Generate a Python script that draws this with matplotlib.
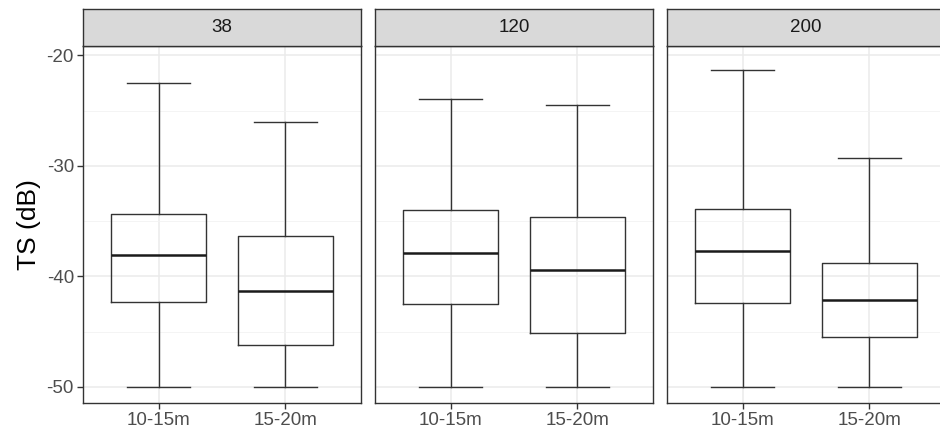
import matplotlib.pyplot as plt
import numpy as np

plt.rcParams["font.family"] = "Liberation Sans"

# frequency panels and depth groups
freqs = ['38', '120', '200']
depths = ['10-15m', '15-20m']

# box stats per panel: one value per depth group
whis_hi = [[-22.5, -26.05], [-23.95, -24.5], [-21.3, -29.3]]
q3 = [[-34.35, -36.3], [-33.95, -34.6], [-33.9, -38.8]]
med = [[-38.05, -41.3], [-37.9, -39.4], [-37.7, -42.1]]
q1 = [[-42.35, -46.2], [-42.5, -45.1], [-42.4, -45.5]]
whis_lo = [[-50, -50], [-50, -50], [-50, -50]]

W, H = 940, 437
fig = plt.figure(figsize=(W/100, H/100), dpi=100)

lefts = [83, 375, 667]
pw = 278
top, strip_bot, bot = 9, 46, 403
line_c = '#333333'

for i, f in enumerate(freqs):
    ax = fig.add_axes([lefts[i]/W, 1-bot/H, pw/W, (bot-strip_bot)/H])
    st = []
    for j in range(2):
        st.append(dict(med=med[i][j], q1=q1[i][j], q3=q3[i][j],
                       whislo=whis_lo[i][j], whishi=whis_hi[i][j], fliers=[]))
    ax.bxp(st, positions=[1, 2], widths=0.75, capwidths=0.5, showfliers=False,
           boxprops=dict(color=line_c, lw=1.0),
           whiskerprops=dict(color=line_c, lw=1.0),
           capprops=dict(color=line_c, lw=1.0),
           medianprops=dict(color='#1a1a1a', lw=1.8))
    ax.set_xlim(0.4, 2.6)
    ax.set_ylim(-51.45, -19.15)
    ax.set_xticks([1, 2])
    ax.set_xticklabels(depths)
    ax.set_yticks([-50, -40, -30, -20])
    ax.set_yticks([-45, -35, -25], minor=True)
    ax.grid(True, which='major', color='#ebebeb', lw=1.1)
    ax.grid(True, which='minor', axis='y', color='#f2f2f2', lw=0.6)
    ax.set_axisbelow(True)
    for s in ax.spines.values():
        s.set_color(line_c)
        s.set_linewidth(1.0)
    ax.tick_params(which='major', length=4, width=1.0, color=line_c,
                   labelsize=13.5, labelcolor='#4d4d4d', pad=2.5)
    ax.tick_params(which='minor', length=0)
    if i == 0:
        ax.set_yticklabels(['-50', '-40', '-30', '-20'])
        ax.set_ylabel('TS (dB)', fontsize=19, color='black', labelpad=4)
    else:
        ax.tick_params(axis='y', which='both', left=False, labelleft=False)

    # facet strip
    sax = fig.add_axes([lefts[i]/W, 1-strip_bot/H, pw/W, (strip_bot-top)/H])
    sax.set_facecolor('#d9d9d9')
    sax.set_xticks([])
    sax.set_yticks([])
    for s in sax.spines.values():
        s.set_color(line_c)
        s.set_linewidth(1.0)
    sax.text(0.5, 0.5, f, ha='center', va='center', fontsize=13.5,
             color='#1a1a1a', transform=sax.transAxes)

fig.savefig('out.png', dpi=100)
